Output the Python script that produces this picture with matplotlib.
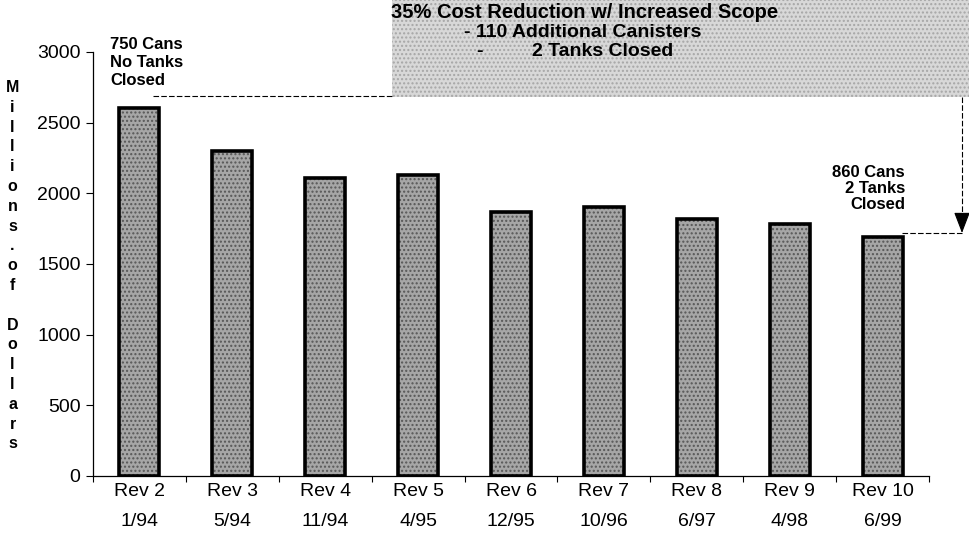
import numpy as np
import matplotlib
matplotlib.use('Agg')
import matplotlib.pyplot as plt
from matplotlib.patches import Rectangle
from matplotlib.lines import Line2D

revs = ["Rev 2", "Rev 3", "Rev 4", "Rev 5", "Rev 6", "Rev 7", "Rev 8", "Rev 9", "Rev 10"]
dates = ["1/94", "5/94", "11/94", "4/95", "12/95", "10/96", "6/97", "4/98", "6/99"]
costs = [2600, 2300, 2110, 2130, 1870, 1900, 1815, 1780, 1690]

plt.rcParams['font.family'] = ['Liberation Sans', 'DejaVu Sans']

fig = plt.figure(figsize=(9.69, 5.39), dpi=100)
ax = fig.add_axes([0.096, 0.117, 0.8627, 0.7866])
ax.set_facecolor('none')

x = np.arange(len(costs))
# stippled fill, then thick black outline
ax.bar(x, costs, width=0.43, color='#a6a6a6', edgecolor='#575757', hatch='....', linewidth=0, zorder=2)
ax.bar(x, costs, width=0.43, fill=False, edgecolor='black', linewidth=2.6, zorder=3)

ax.set_xlim(-0.5, len(costs) - 0.5)
ax.set_ylim(0, 3000)
ax.set_yticks(range(0, 3001, 500))
ax.set_xticks(np.arange(-0.5, len(costs)))
ax.set_xticklabels([])
ax.set_xticks(x, minor=True)
ax.set_xticklabels([r + "\n" + d for r, d in zip(revs, dates)], minor=True)
for t in ax.get_xticklabels(minor=True):
    t.set_linespacing(2.0)
ax.tick_params(axis='x', which='minor', length=0, pad=5, labelsize=14)
ax.tick_params(axis='x', which='major', length=4, direction='out')
ax.tick_params(axis='y', length=5, labelsize=14, pad=4)
for s in ['top', 'right']:
    ax.spines[s].set_visible(False)
ax.spines['left'].set_linewidth(0.9)
ax.spines['bottom'].set_linewidth(0.9)

# vertical y label, one letter per line
fig.text(0.013, 0.507, "\n".join("Millions.of Dollars"), ha='center', va='center',
         fontsize=11.5, fontweight='bold', linespacing=1.4)

# shaded note box
fig.add_artist(Rectangle((0.405, 0.82), 0.595, 0.18, transform=fig.transFigure,
                         facecolor='#d8d8d8', edgecolor='#a6a6a6', hatch='....',
                         linewidth=0, zorder=0))
fig.text(0.4035, 0.977, "35% Cost Reduction w/ Increased Scope", fontsize=14.5,
         fontweight='bold', va='center', ha='left')
fig.text(0.479, 0.940, "- 110 Additional Canisters", fontsize=14,
         fontweight='bold', va='center', ha='left')
fig.text(0.492, 0.905, "-", fontsize=14, fontweight='bold', va='center', ha='left')
fig.text(0.549, 0.905, "2 Tanks Closed", fontsize=14, fontweight='bold', va='center', ha='left')

# connector lines and arrow
y_top = 1 - 96 / 539
fig.add_artist(Line2D([153 / 969, 0.405], [y_top, y_top], transform=fig.transFigure,
                      color='black', lw=0.8, ls=(0, (5, 2))))
xa = 962 / 969
ya = 1 - 233 / 539
fig.add_artist(Line2D([xa, xa], [0.82, 1 - 218 / 539], transform=fig.transFigure,
                      color='black', lw=0.8, ls=(0, (5, 2))))
ax.annotate('', xy=(xa, ya), xytext=(xa, 1 - 214 / 539), xycoords='figure fraction',
            textcoords='figure fraction',
            arrowprops=dict(arrowstyle='-|>,head_length=1.3,head_width=0.5',
                            color='black', lw=0.8, shrinkA=0, shrinkB=0))
fig.add_artist(Line2D([902 / 969, xa], [ya, ya], transform=fig.transFigure,
                      color='black', lw=0.8, ls=(0, (5, 2))))

# side notes
fig.text(0.1135, 0.932, "750 Cans\nNo Tanks\nClosed", fontsize=12, fontweight='bold',
         ha='left', va='top', linespacing=1.25)
fig.text(0.934, 0.693, "860 Cans\n2 Tanks\nClosed", fontsize=12, fontweight='bold',
         ha='right', va='top', multialignment='right', linespacing=1.05)

fig.savefig('out.png', dpi=100)
